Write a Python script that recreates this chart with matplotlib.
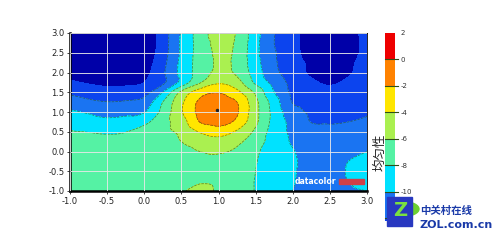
import numpy as np
import matplotlib
matplotlib.use('Agg')
import matplotlib.pyplot as plt
import matplotlib.tri as mtri
from matplotlib.patches import Rectangle, Circle

plt.rcParams['font.family'] = ['DejaVu Sans', 'Noto Sans CJK SC']
plt.rcParams['axes.unicode_minus'] = False

# grid (x = -1..3, y = -1..3, step 0.25)
x_vals = np.arange(-1.0, 3.01, 0.25)
y_vals = np.arange(-1.0, 3.01, 0.25)

z_m100 = [-6.9, -6.9, -6.85, -6.8, -6.7, -6.4, -6.1, -5.7, -6.15, -6.8, -8.1, -9.0, -10.0, -10.4, -10.5, -10.3, -10.0]
z_m075 = [-6.9, -6.9, -6.85, -6.8, -6.7, -6.5, -6.3, -6.1, -6.2, -6.7, -8.1, -8.9, -9.9, -10.3, -10.3, -10.0, -9.3]
z_m050 = [-6.9, -6.9, -6.9, -6.85, -6.75, -6.6, -6.4, -6.3, -6.35, -6.8, -8.0, -8.9, -9.85, -10.4, -10.4, -9.9, -9.0]
z_m025 = [-7.0, -7.0, -7.0, -6.9, -6.8, -6.6, -6.4, -6.3, -6.3, -6.7, -7.9, -8.9, -9.8, -10.4, -10.4, -10.0, -9.2]
z_p000 = [-7.1, -7.2, -7.2, -7.0, -6.8, -6.6, -6.3, -6.0, -5.85, -6.3, -7.7, -8.9, -9.9, -10.6, -10.7, -10.4, -10.0]
z_p025 = [-7.4, -7.5, -7.6, -7.4, -7.0, -6.6, -6.0, -5.4, -4.9, -5.6, -7.1, -8.9, -10.2, -10.9, -11.1, -10.9, -10.4]
z_p050 = [-7.9, -8.05, -8.2, -8.05, -7.2, -6.4, -5.6, -3.85, -2.95, -4.3, -6.4, -8.9, -10.4, -11.2, -11.5, -11.3, -10.9]
z_p075 = [-8.8, -9.2, -9.5, -9.3, -8.5, -6.7, -4.9, -1.95, -1.4, -2.5, -5.6, -8.7, -10.6, -12.05, -12.15, -12.0, -11.7]
z_p100 = [-9.7, -10.2, -10.7, -10.5, -10.1, -7.4, -4.2, -1.45, -0.85, -1.8, -5.4, -8.7, -11.2, -12.3, -12.6, -12.5, -12.2]
z_p125 = [-11.0, -11.6, -11.95, -11.8, -11.3, -8.0, -4.4, -1.65, -1.07, -2.0, -5.5, -9.0, -12.1, -12.7, -13.0, -12.9, -12.5]
z_p150 = [-12.4, -12.9, -13.3, -13.2, -12.7, -10.0, -5.6, -2.9, -2.1, -3.5, -6.4, -10.0, -12.4, -13.2, -13.5, -13.3, -12.8]
z_p175 = [-13.7, -14.2, -14.5, -14.4, -14.0, -12.4, -9.4, -6.2, -4.3, -5.3, -8.4, -10.7, -12.6, -13.7, -14.2, -13.7, -13.0]
z_p200 = [-14.8, -15.3, -15.5, -15.3, -14.6, -12.3, -9.4, -7.1, -5.6, -6.35, -9.0, -11.5, -13.0, -14.3, -14.9, -14.2, -13.2]
z_p225 = [-15.6, -16.1, -16.3, -15.9, -15.0, -12.6, -9.5, -7.2, -5.8, -6.45, -9.3, -11.7, -13.2, -14.4, -15.3, -14.4, -13.2]
z_p250 = [-16.1, -16.6, -16.8, -16.4, -15.4, -12.9, -9.7, -7.2, -5.7, -6.4, -9.5, -11.8, -13.4, -14.8, -15.8, -14.8, -13.4]
z_p275 = [-16.4, -16.9, -17.0, -16.6, -15.5, -13.0, -9.7, -7.2, -5.5, -6.3, -9.4, -12.0, -13.5, -14.8, -15.8, -14.8, -13.4]
z_p300 = [-16.5, -17.0, -17.0, -16.6, -15.5, -13.0, -9.8, -7.1, -5.05, -6.15, -9.25, -11.9, -13.5, -14.7, -15.5, -14.6, -13.4]

levels = [-18, -14, -12, -10, -8, -6, -4, -2, 0, 2]
fill_colors = ['#0000a8', '#0c44ee', '#1a74f2', '#00e2ff', '#55f2a4',
               '#aaf050', '#ffe600', '#ff8200', '#ee0000']
cbar_ticks = [-10, -8, -6, -4, -2, 0, 2]
peak_x = [0.98]
peak_y = [1.05]

Z = np.array([z_m100, z_m075, z_m050, z_m025, z_p000, z_p025, z_p050, z_p075, z_p100,
              z_p125, z_p150, z_p175, z_p200, z_p225, z_p250, z_p275, z_p300])
X, Y = np.meshgrid(x_vals, y_vals)

# split every grid cell the same way so the triangulation is regular
nx, ny = len(x_vals), len(y_vals)
tris = []
for j in range(ny - 1):
    for i in range(nx - 1):
        a = j * nx + i
        b = a + 1
        c = a + nx
        d = c + 1
        tris.append([a, b, d])
        tris.append([a, d, c])
tri = mtri.Triangulation(X.ravel(), Y.ravel(), triangles=tris)
interp = mtri.CubicTriInterpolator(tri, Z.ravel(), kind='geom')
refiner = mtri.UniformTriRefiner(tri)
tri_f, z_f = refiner.refine_field(Z.ravel(), triinterpolator=interp, subdiv=3)

W, H = 500, 242
fig = plt.figure(figsize=(5, 2.42), dpi=100)

def fx(px):
    return px / W

def fy(py):
    return 1 - py / H

ax = fig.add_axes([fx(70), fy(191), fx(367) - fx(70), fy(33) - fy(191)])
cs = ax.tricontourf(tri_f, z_f, levels=levels, colors=fill_colors)
ax.tricontour(tri_f, z_f, levels=levels[2:-1], colors='#2f4f18', linewidths=0.5, alpha=0.7)
ax.plot(peak_x, peak_y, 'o', color='#202020', ms=1.5)

ax.set_xlim(-1, 3)
ax.set_ylim(-1, 3)
ticks = np.arange(-1.0, 3.01, 0.5)
ax.set_xticks(ticks)
ax.set_yticks(ticks)
ax.set_xticklabels(['%.1f' % t for t in ticks])
ax.set_yticklabels(['%.1f' % t for t in ticks])
ax.tick_params(labelsize=6, colors='#222222', length=2, width=0.6, pad=2)
ax.grid(True, color='#e8e8e8', lw=0.7, alpha=0.9)
ax.set_axisbelow(False)
for s in ['left', 'bottom']:
    ax.spines[s].set_linewidth(1.8)
for s in ['top', 'right']:
    ax.spines[s].set_linewidth(0.6)

# watermark
ax.text(0.755, 0.062, 'datacolor', transform=ax.transAxes, color='white',
        fontsize=5.6, fontweight='bold', va='center', ha='left')
ax.add_patch(Rectangle((0.905, 0.045), 0.085, 0.03, transform=ax.transAxes,
                       color='#d04048', zorder=5))

# colour bar, cut off just below -12 as in the picture
cax = fig.add_axes([fx(385), fy(221), fx(395) - fx(385), fy(33) - fy(221)])
cb = fig.colorbar(cs, cax=cax, ticks=cbar_ticks)
cax.set_ylim(-12.2, 2)
cb.outline.set_visible(False)
cax.tick_params(length=0, labelsize=5, pad=4, colors='#333333')
for lev in levels[2:-1]:
    cax.axhline(lev, xmin=0, xmax=1.25, color='#2f4f18', lw=0.8, clip_on=False)

fig.text(fx(380), fy(152), '均匀性', rotation=90, fontsize=9,
         family=['Noto Sans CJK SC'], ha='center', va='center', color='#222222')

# zol logo
fig.patches.append(Circle((fx(404), fy(209)), 0.03, transform=fig.transFigure,
                          color='#6cd030', zorder=5))
fig.patches.append(Rectangle((fx(387), fy(226)), fx(25), fy(0) - fy(29),
                             transform=fig.transFigure, color='#2838c0', zorder=6))
fig.text(fx(400), fy(211), 'Z', color='#7ae040', fontsize=14, fontweight='bold',
         ha='center', va='center', zorder=7)
fig.text(fx(420), fy(211), '中关村在线', color='#1a3aa8', fontsize=7.5, fontweight='bold',
         family=['Noto Sans CJK SC'], ha='left', va='center')
fig.text(fx(419), fy(225), 'ZOL.com.cn', color='#1a3aa8', fontsize=8, fontweight='bold',
         ha='left', va='center')

fig.savefig('out.png', dpi=100)
